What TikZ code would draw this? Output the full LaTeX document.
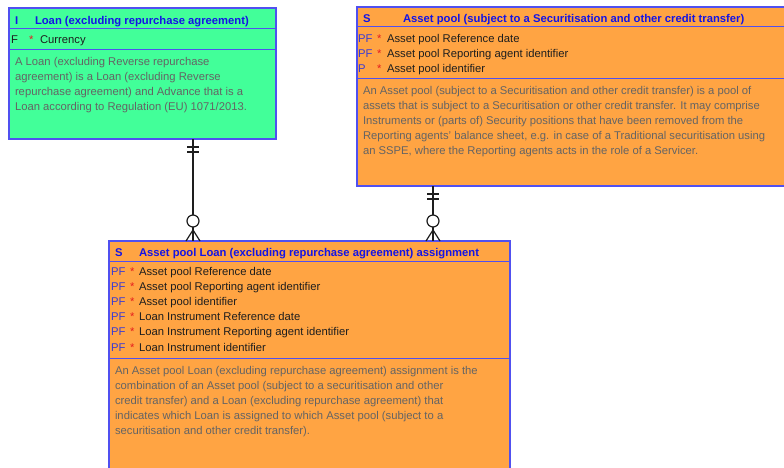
\documentclass[tikz,border=0pt]{standalone}
\usepackage{fontspec}
\setmainfont{Liberation Sans}
\usetikzlibrary{calc}
\definecolor{entgreen}{RGB}{66,255,153}
\definecolor{entorange}{RGB}{255,164,67}
\definecolor{edgeblue}{RGB}{80,80,240}
\definecolor{titleblue}{RGB}{20,20,230}
\definecolor{keyblue}{RGB}{60,60,210}
\definecolor{reqred}{RGB}{230,30,30}
\definecolor{descgrey}{RGB}{100,100,100}
\definecolor{attrblack}{RGB}{30,30,30}
\definecolor{relgrey}{RGB}{30,30,30}
\begin{document}
\begin{tikzpicture}[x=1pt,y=-1pt,
  every node/.style={inner sep=0pt, outer sep=0pt},
  txt/.style={anchor=base west, font=\fontsize{11.25}{13}\selectfont},
  ttl/.style={txt, font=\fontsize{11.25}{13}\selectfont\bfseries, text=titleblue},
  keyc/.style={txt, text=keyblue},
  keyk/.style={txt, text=attrblack},
  req/.style={txt, text=reqred},
  attr/.style={txt, text=attrblack},
  desc/.style={txt, text=descgrey},
  entity/.style={draw=edgeblue, line width=1.3pt, rectangle, anchor=north west},
  sep/.style={draw=edgeblue, line width=1pt},
  rel/.style={draw=relgrey, line width=1.2pt},
  mandone/.pic={\draw[rel, line width=1.5pt] (-6,8) -- (6,8) (-6,13) -- (6,13);},
  zeromany/.pic={\draw[rel,fill=white] (0,-20) circle[radius=6pt];
                 \draw[rel] (-7,0) -- (0,-11) -- (7,0);},
]
\clip (0,0) rectangle (784,467);
\useasboundingbox (0,0) rectangle (784,467);
\fill[white] (0,0) rectangle (784,467);

% ---------- entity: Loan ----------
\node[entity, fill=entgreen, minimum width=267pt, minimum height=131pt] (loan) at (9,8) {};
\draw[sep] (loan.west |- 0,28) -- (loan.east |- 0,28);
\draw[sep] (loan.west |- 0,49) -- (loan.east |- 0,49);
\node[ttl] (loanK) at (15,24) {I};
\node[ttl] (loanT) at (35,24) {Loan (excluding repurchase agreement)};
\node[keyk] (loanK1) at (11,43) {F};
\node[req] (loanR1) at (29,43) {*};
\node[attr] (loanA1) at (40,43) {Currency};
\node[desc] (loanD1) at (15,65.7) {A Loan (excluding Reverse repurchase};
\node[desc] (loanD2) at (15,80.7) {agreement) is a Loan (excluding Reverse};
\node[desc] (loanD3) at (15,95.7) {repurchase agreement) and Advance that is a};
\node[desc] (loanD4) at (15,110.7) {Loan according to Regulation (EU) 1071/2013.};

% ---------- entity: Asset pool ----------
\node[entity, fill=entorange, minimum width=445pt, minimum height=179pt] (pool) at (357,7) {};
\draw[sep] (pool.west |- 0,26) -- (pool.east |- 0,26);
\draw[sep] (pool.west |- 0,78) -- (pool.east |- 0,78);
\node[ttl] (poolK) at (363,22.5) {S};
\node[ttl] (poolT) at (403,22.5) {Asset pool (subject to a Securitisation and other credit transfer)};
\node[keyc] (poolK1) at (358,42.5) {PF};
\node[req] (poolR1) at (377,42.5) {*};
\node[attr] (poolA1) at (387,42.5) {Asset pool Reference date};
\node[keyc] (poolK2) at (358,57.5) {PF};
\node[req] (poolR2) at (377,57.5) {*};
\node[attr] (poolA2) at (387,57.5) {Asset pool Reporting agent identifier};
\node[keyc] (poolK3) at (358,72.5) {P};
\node[req] (poolR3) at (377,72.5) {*};
\node[attr] (poolA3) at (387,72.5) {Asset pool identifier};
\node[desc] (poolD1) at (363,94) {An Asset pool (subject to a Securitisation and other credit transfer) is a pool of};
\node[desc] (poolD2) at (363,109.2) {assets that is subject to a Securitisation or other credit transfer. It may comprise};
\node[desc] (poolD3) at (363,124.4) {Instruments or (parts of) Security positions that have been removed from the};
\node[desc] (poolD4) at (363,139.6) {Reporting agents' balance sheet, e.g. in case of a Traditional securitisation using};
\node[desc] (poolD5) at (363,154.8) {an SSPE, where the Reporting agents acts in the role of a Servicer.};

% ---------- entity: Asset pool Loan assignment ----------
\node[entity, fill=entorange, minimum width=401pt, minimum height=240pt] (asg) at (109,241) {};
\draw[sep] (asg.west |- 0,261) -- (asg.east |- 0,261);
\draw[sep] (asg.west |- 0,358) -- (asg.east |- 0,358);
\node[ttl] (asgK) at (115,256.5) {S};
\node[ttl] (asgT) at (139,256.5) {Asset pool Loan (excluding repurchase agreement) assignment};
\node[keyc] (asgK1) at (111,275.5) {PF};
\node[req] (asgR1) at (130,275.5) {*};
\node[attr] (asgA1) at (139,275.5) {Asset pool Reference date};
\node[keyc] (asgK2) at (111,290.6) {PF};
\node[req] (asgR2) at (130,290.6) {*};
\node[attr] (asgA2) at (139,290.6) {Asset pool Reporting agent identifier};
\node[keyc] (asgK3) at (111,305.7) {PF};
\node[req] (asgR3) at (130,305.7) {*};
\node[attr] (asgA3) at (139,305.7) {Asset pool identifier};
\node[keyc] (asgK4) at (111,320.8) {PF};
\node[req] (asgR4) at (130,320.8) {*};
\node[attr] (asgA4) at (139,320.8) {Loan Instrument Reference date};
\node[keyc] (asgK5) at (111,335.9) {PF};
\node[req] (asgR5) at (130,335.9) {*};
\node[attr] (asgA5) at (139,335.9) {Loan Instrument Reporting agent identifier};
\node[keyc] (asgK6) at (111,351) {PF};
\node[req] (asgR6) at (130,351) {*};
\node[attr] (asgA6) at (139,351) {Loan Instrument identifier};
\node[desc] (asgD1) at (115,374) {An Asset pool Loan (excluding repurchase agreement) assignment is the};
\node[desc] (asgD2) at (115,389) {combination of an Asset pool (subject to a securitisation and other};
\node[desc] (asgD3) at (115,404) {credit transfer) and a Loan (excluding repurchase agreement) that};
\node[desc] (asgD4) at (115,419) {indicates which Loan is assigned to which Asset pool (subject to a};
\node[desc] (asgD5) at (115,434) {securitisation and other credit transfer).};

% ---------- relationships ----------
\coordinate (r1a) at (loan.south -| 193,0);
\coordinate (r1b) at (asg.north -| 193,0);
\draw[rel] (r1a) -- (r1b);
\pic at (r1a) {mandone};
\pic at (r1b) {zeromany};

\coordinate (r2a) at (pool.south -| 433,0);
\coordinate (r2b) at (asg.north -| 433,0);
\draw[rel] (r2a) -- (r2b);
\pic at (r2a) {mandone};
\pic at (r2b) {zeromany};
\end{tikzpicture}
\end{document}
